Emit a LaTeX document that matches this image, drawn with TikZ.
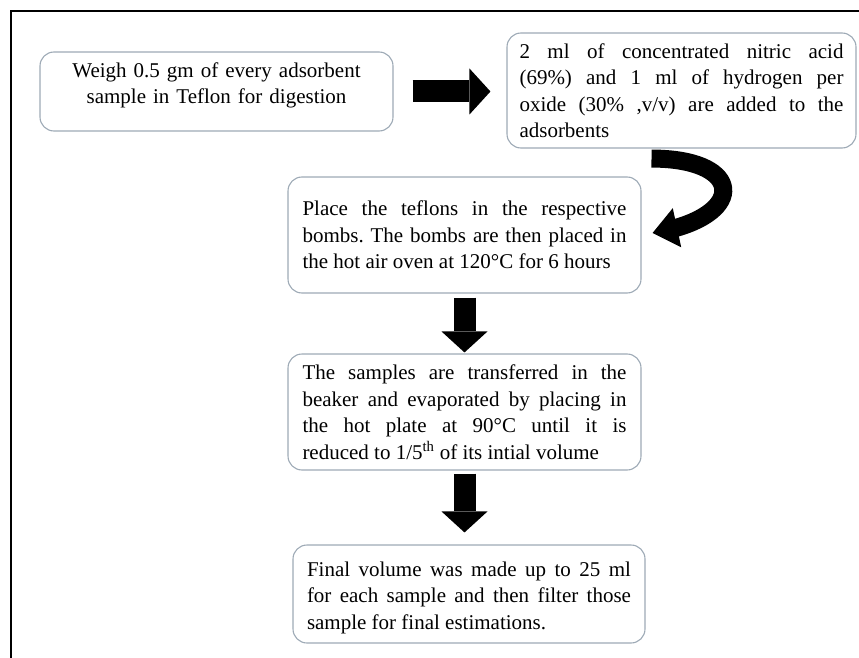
\documentclass[tikz,border=0pt]{standalone}
\usepackage{fontspec}
\setmainfont{Liberation Serif}
\usetikzlibrary{arrows.meta,bending}
\frenchspacing

\definecolor{boxline}{RGB}{158,170,182}

\tikzset{
	stepbox/.style={draw=boxline, line width=1.1pt, rounded corners=14pt, fill=white,
		inner sep=0pt, text width=324pt, align=justify,
		font=\fontsize{21}{26.5}\selectfont},
	blockarrow/.style={line width=22pt, -{Triangle[length=21pt,width=46pt,line width=0pt]}},
	bendarrow/.style={line width=18pt, -{Triangle[length=25pt,width=40pt,line width=0pt]}},
}

\begin{document}
\begin{tikzpicture}[x=1pt,y=-1pt]
					\useasboundingbox (0,0) rectangle (859,658);
					% 外框线
					\draw[line width=2pt] (11,658) -- (11,11) -- (859,11);
					% 各步骤
					\node[stepbox,align=center,text depth=43pt,minimum width=353pt,minimum height=79pt] (weigh) at (216.5,91.5)
						{Weigh 0.5 gm of every adsorbent\\sample in Teflon for digestion};
					\node[stepbox,minimum width=349pt,minimum height=115pt] (acid) at (681.5,90.5)
						{2 ml of concentrated nitric acid\linebreak
						(69\%) and 1 ml of hydrogen per\linebreak
						oxide (30\% ,v/v) are added to the\linebreak
						adsorbents};
					\node[stepbox,minimum width=353pt,minimum height=116pt] (place) at (464.5,235)
						{Place the teflons in the respective\linebreak
						bombs. The bombs are then placed in\linebreak
						the hot air oven at 120°C for 6 hours};
					\node[stepbox,minimum width=353pt,minimum height=116pt] (transfer) at (464.5,412)
						{The samples are transferred in the\linebreak
						beaker and evaporated by placing in\linebreak
						the hot plate at 90°C until it is\linebreak
						reduced to 1/5\textsuperscript{th} of its intial volume};
					\node[stepbox,text depth=50pt,minimum width=352pt,minimum height=98pt] (final) at (469,594)
						{Final volume was made up to 25 ml\linebreak
						for each sample and then filter those\linebreak
						sample for final estimations.};
					% 箭头
					\draw[blockarrow,shorten <=19pt,shorten >=16pt] (weigh.east) -- (weigh.east -| acid.west);
					\draw[bendarrow] ([xshift=-30pt,yshift=-10pt]acid.south) .. controls +(95,0) and +(95,-15) .. ([xshift=11pt,yshift=2pt]place.east);
					\draw[blockarrow,shorten <=4pt,shorten >=1pt] (place.south) -- (transfer.north);
					\draw[blockarrow,shorten <=3pt,shorten >=12pt] (transfer.south) -- (transfer.south |- final.north);
				\end{tikzpicture}
\end{document}
